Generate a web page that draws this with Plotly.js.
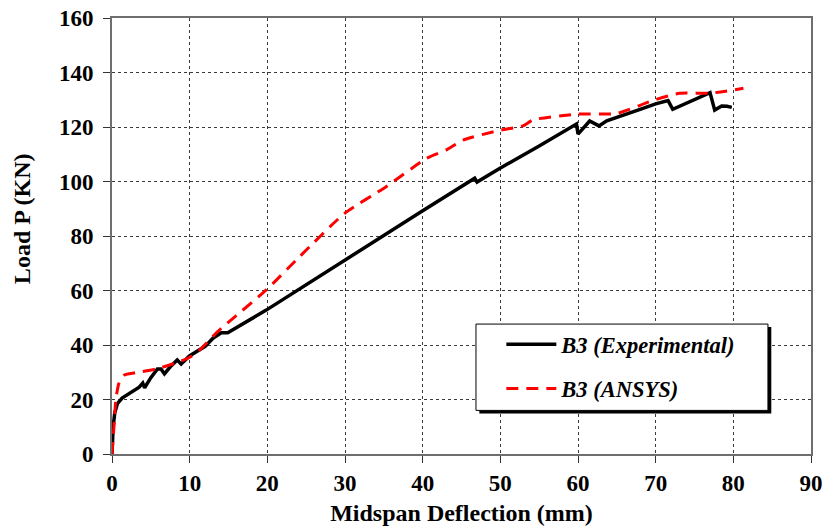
<!DOCTYPE html>
<html>
<head>
<meta charset="utf-8">
<script src="https://cdn.plot.ly/plotly-3.0.1.min.js"></script>
<style>
  html, body { margin: 0; padding: 0; background: #fff; }
  #chart { width: 825px; height: 529px; }
</style>
</head>
<body>
<div id="chart"></div>
<script>
// Load-deflection response of beam B3: test record vs. finite element model
const expDeflection = [0, 0.15, 0.35, 0.7, 1.3, 2.5, 3.5, 3.96, 4.2, 5.0, 5.85, 6.3, 6.75, 7.5, 8.4, 8.9,
  9.97, 12, 13, 14.06, 14.9, 19.86, 29.95, 39.8, 46.7, 47.0, 49.9, 55, 59.8, 60.0, 61.5, 62.7, 63.7,
  65, 68, 70, 71.6, 72.2, 74.5, 77.0, 77.6, 78.5, 79.2, 79.8];
const expLoad = [0, 10, 15, 18.5, 20.5, 22.5, 24.5, 26, 24.3, 28, 31.2, 31.2, 29.4, 32, 34.5, 33,
  36, 39.5, 42.5, 44.5, 44.5, 52.8, 71.2, 88.9, 101.2, 99.8, 104.8, 113, 121.1, 117.4, 122.2, 120.4, 122.3,
  123.5, 126.5, 128.5, 129.7, 126.5, 129.5, 132.6, 126.2, 127.7, 127.6, 127.2];

const femDeflection = [0, 0.3, 0.5, 0.9, 1.6, 3.0, 5.7, 8.7, 10, 11.3, 13.6, 16, 19.86, 24.15, 29.95,
  35.3, 40.5, 43.05, 45.2, 50.1, 52.9, 54.2, 59.8, 65, 69.6, 73.1, 77, 81.3];
const femLoad = [0, 12, 20, 26, 29, 29.8, 31.2, 33.9, 35.5, 38.2, 44.9, 50.8, 60.2, 72.4, 88.3,
  98.1, 108.5, 111.6, 115.2, 118.9, 120.4, 122.6, 124.7, 125.0, 129.7, 132.4, 132.4, 134.2];

const seriesNames = ['B3 (Experimental)', 'B3 (ANSYS)'];
const xTicks = [0, 10, 20, 30, 40, 50, 60, 70, 80, 90];
const yTicks = [0, 20, 40, 60, 80, 100, 120, 140, 160];
const xTitle = 'Midspan Deflection (mm)';
const yTitle = 'Load P (KN)';

const serif = 'Liberation Serif, Times New Roman, serif';

const traces = [
  {
    x: expDeflection, y: expLoad, name: seriesNames[0], type: 'scatter', mode: 'lines',
    line: { color: '#000000', width: 3.5 }, legendgroup: 'a'
  },
  {
    x: femDeflection, y: femLoad, name: seriesNames[1], type: 'scatter', mode: 'lines',
    line: { color: '#ff0000', width: 3, dash: '12px,8px', shape: 'spline', smoothing: 0.6 }, legendgroup: 'b'
  }
];

const axisCommon = {
  showline: true, linecolor: '#6e6e6e', linewidth: 2, mirror: true,
  ticks: 'outside', ticklen: 7, tickcolor: '#333', tickwidth: 1,
  showgrid: true, gridcolor: '#3a3a3a', gridwidth: 1, griddash: 'dot',
  zeroline: false, tickfont: { family: serif, size: 23, color: '#000', weight: 'bold' }
};

const layout = {
  width: 825, height: 529,
  margin: { l: 112, r: 14, t: 18, b: 75 },
  paper_bgcolor: '#fff', plot_bgcolor: '#fff',
  font: { family: serif },
  xaxis: Object.assign({}, axisCommon, {
    range: [0, 90], tickvals: xTicks, ticktext: xTicks.map(String),
    title: { text: xTitle, font: { family: serif, size: 24, color: '#000', weight: 'bold' }, standoff: 10 }
  }),
  yaxis: Object.assign({}, axisCommon, {
    range: [0, 160], tickvals: yTicks, ticktext: yTicks.map(String), ticklabelstandoff: 5
  }),
  annotations: [
    { text: yTitle, xref: 'paper', yref: 'paper', x: -0.129, y: 0.5406, xanchor: 'center', yanchor: 'middle',
      textangle: -90, showarrow: false, font: { family: serif, size: 24, color: '#000', weight: 'bold' } }
  ],
  showlegend: true,
  legend: {
    x: 0.557, y: 0.30, xanchor: 'left', yanchor: 'top',
    bgcolor: 'rgba(0,0,0,0)', borderwidth: 0,
    font: { family: serif, size: 22.5, color: '#000', weight: 'bold', style: 'italic' },
    tracegroupgap: 12, itemwidth: 50
  },
  shapes: [
    // legend frame with drop shadow
    { type: 'rect', xref: 'paper', yref: 'paper', x0: 0.5255, x1: 0.9432, y0: 0.0930, y1: 0.2910,
      fillcolor: '#000', line: { width: 0 }, layer: 'above' },
    { type: 'rect', xref: 'paper', yref: 'paper', x0: 0.5207, x1: 0.9384, y0: 0.1000, y1: 0.2980,
      fillcolor: '#fff', line: { color: '#000', width: 1 }, layer: 'above' }
  ]
};

Plotly.newPlot('chart', traces, layout, { displayModeBar: false, staticPlot: true }).then(function () {
  // keep the legend drawn over the frame shapes
  const gd = document.getElementById('chart');
  const legend = gd.querySelector('.legend');
  if (legend && legend.parentNode) legend.parentNode.appendChild(legend);
});
</script>
</body>
</html>
